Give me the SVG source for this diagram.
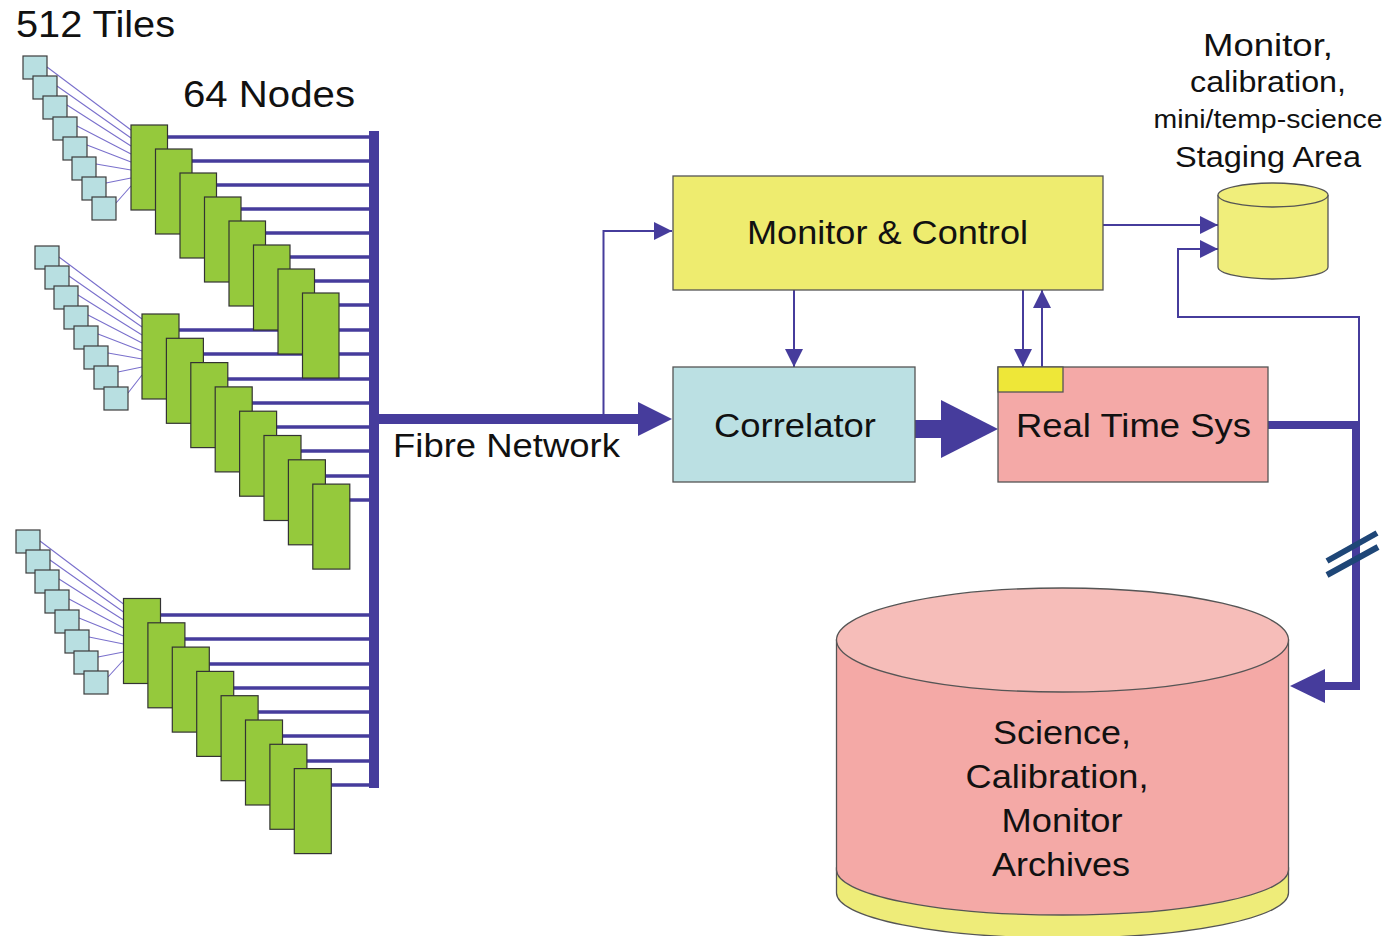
<svg xmlns="http://www.w3.org/2000/svg" width="1387" height="936" viewBox="0 0 1387 936">
<style>
.t{font-family:"Liberation Sans",Arial,Helvetica,sans-serif;fill:#111;}
.tile{fill:#B8DFE1;stroke:#3c3c3c;stroke-width:1.2;}
.node{fill:#95C93C;stroke:#333;stroke-width:1.2;}
.fan{stroke:#7A70CC;stroke-width:1.1;fill:none;}
.hl{stroke:#463C9C;stroke-width:3.5;}
.thin{stroke:#463C9C;stroke-width:2;fill:none;}
.thick{stroke:#463C9C;fill:none;}
.box{stroke:#555;stroke-width:1.3;}
</style>
<defs>
<marker id="ah" markerUnits="userSpaceOnUse" markerWidth="18" markerHeight="18" viewBox="0 0 18 18" refX="18" refY="9" orient="auto">
<path d="M0,0 L18,9 L0,18 z" fill="#463C9C"/>
</marker>
</defs>
<rect width="1387" height="936" fill="#fff"/>

<g id="connectors">
<g id="fan-lines" class="fan">
<path d="M47,67L131,130M57,86L131,138M67,105L131,146M77,126L131,154M87,145L131,162M96,164L131,170M106,183L131,178M116,203L131,186"/>
<path d="M59,257L142,319M69,276L142,327M78,295L142,335M88,315L142,343M98,334L142,351M108,353L142,359M118,372L142,367M128,393L142,375"/>
<path d="M40,541L123.5,604M50,560L123.5,612M59,579L123.5,620M69,599L123.5,628M79,618L123.5,636M89,637L123.5,644M98,657L123.5,652M108,677L123.5,660"/>
</g>
<g id="node-links" class="hl">
<path d="M150,137H372M175,161H372M199,185H372M224,209H372M248,233H372M273,257H372M297,281H372M321,305H372"/>
<path d="M160,330H372M185,354H372M209,379H372M233,403H372M258,427H372M282,451H372M306,476H372M331,500H372"/>
<path d="M141,615H372M166,639H372M190,664H372M215,688H372M239,712H372M263,736H372M288,761H372M312,785H372"/>
</g>
<rect id="fibre-bus" x="369" y="131" width="10" height="657" fill="#463C9C"/>
<path id="fibre-to-correlator" d="M379,419H640" class="thick" stroke-width="10"/>
<polygon points="638,402 672,419 638,436" fill="#463C9C"/>
<path id="fibre-to-mc" d="M603.5,419V231H672" class="thin" marker-end="url(#ah)"/>
<path id="mc-to-correlator" d="M794,290V367" class="thin" marker-end="url(#ah)"/>
<path id="mc-to-rts" d="M1023,290V367" class="thin" marker-end="url(#ah)"/>
<path id="rts-to-mc" d="M1042,367V290" class="thin" marker-end="url(#ah)"/>
<rect id="correlator-to-rts" x="915" y="420" width="28" height="18" fill="#463C9C"/>
<polygon points="941,400 998,429 941,458" fill="#463C9C"/>
<path id="mc-to-staging" d="M1103,225H1218" class="thin" marker-end="url(#ah)"/>
<path id="rts-to-staging" d="M1359,425V317H1178V249H1218" class="thin" marker-end="url(#ah)"/>
<path id="rts-to-archive" d="M1268,425H1356V686H1324" class="thick" stroke-width="8"/>
<polygon points="1325,669 1290,686 1325,703" fill="#463C9C"/>
<g id="break-mark" stroke="#1E4677" stroke-width="6">
<path d="M1327,561L1377,533M1327,575L1378,547"/>
</g>
</g>

<g id="tiles-1">
<rect class="tile" x="23" y="56" width="24" height="23"/>
<rect class="tile" x="33" y="76" width="24" height="23"/>
<rect class="tile" x="43" y="96" width="24" height="23"/>
<rect class="tile" x="53" y="117" width="24" height="23"/>
<rect class="tile" x="63" y="137" width="24" height="23"/>
<rect class="tile" x="72" y="157" width="24" height="23"/>
<rect class="tile" x="82" y="177" width="24" height="23"/>
<rect class="tile" x="92" y="197" width="24" height="23"/>
</g>
<g id="tiles-2">
<rect class="tile" x="35" y="246" width="24" height="23"/>
<rect class="tile" x="45" y="266" width="24" height="23"/>
<rect class="tile" x="54" y="286" width="24" height="23"/>
<rect class="tile" x="64" y="306" width="24" height="23"/>
<rect class="tile" x="74" y="326" width="24" height="23"/>
<rect class="tile" x="84" y="346" width="24" height="23"/>
<rect class="tile" x="94" y="366" width="24" height="23"/>
<rect class="tile" x="104" y="387" width="24" height="23"/>
</g>
<g id="tiles-3">
<rect class="tile" x="16" y="530" width="24" height="23"/>
<rect class="tile" x="26" y="550" width="24" height="23"/>
<rect class="tile" x="35" y="570" width="24" height="23"/>
<rect class="tile" x="45" y="590" width="24" height="23"/>
<rect class="tile" x="55" y="610" width="24" height="23"/>
<rect class="tile" x="65" y="630" width="24" height="23"/>
<rect class="tile" x="74" y="651" width="24" height="23"/>
<rect class="tile" x="84" y="671" width="24" height="23"/>
</g>

<g id="nodes-1">
<rect class="node" x="131" y="125" width="36.5" height="85"/>
<rect class="node" x="155.5" y="149" width="36.5" height="85"/>
<rect class="node" x="180" y="173" width="36.5" height="85"/>
<rect class="node" x="204.5" y="197" width="36.5" height="85"/>
<rect class="node" x="229" y="221" width="36.5" height="85"/>
<rect class="node" x="253.5" y="245" width="36.5" height="85"/>
<rect class="node" x="278" y="269" width="36.5" height="85"/>
<rect class="node" x="302.5" y="293" width="36.5" height="85"/>
</g>
<g id="nodes-2">
<rect class="node" x="142" y="314" width="37" height="85"/>
<rect class="node" x="166.4" y="338.3" width="37" height="85"/>
<rect class="node" x="190.8" y="362.6" width="37" height="85"/>
<rect class="node" x="215.2" y="386.9" width="37" height="85"/>
<rect class="node" x="239.6" y="411.2" width="37" height="85"/>
<rect class="node" x="264" y="435.5" width="37" height="85"/>
<rect class="node" x="288.4" y="459.8" width="37" height="85"/>
<rect class="node" x="312.8" y="484.1" width="37" height="85"/>
</g>
<g id="nodes-3">
<rect class="node" x="123.5" y="598.5" width="37" height="85"/>
<rect class="node" x="147.9" y="622.8" width="37" height="85"/>
<rect class="node" x="172.3" y="647.1" width="37" height="85"/>
<rect class="node" x="196.7" y="671.4" width="37" height="85"/>
<rect class="node" x="221.1" y="695.7" width="37" height="85"/>
<rect class="node" x="245.5" y="720" width="37" height="85"/>
<rect class="node" x="269.9" y="744.3" width="37" height="85"/>
<rect class="node" x="294.3" y="768.6" width="37" height="85"/>
</g>

<g id="labels">
<text class="t" x="16" y="37" font-size="37" textLength="159" lengthAdjust="spacingAndGlyphs">512 Tiles</text>
<text class="t" x="183" y="107" font-size="37" textLength="172" lengthAdjust="spacingAndGlyphs">64 Nodes</text>
<text class="t" x="393" y="457" font-size="32.5" textLength="227" lengthAdjust="spacingAndGlyphs">Fibre Network</text>
</g>

<g id="monitor-control">
<rect class="box" x="673" y="176" width="430" height="114" fill="#EEEC6F"/>
<text class="t" x="747" y="244" font-size="32.5" textLength="281" lengthAdjust="spacingAndGlyphs">Monitor &amp; Control</text>
</g>

<g id="correlator">
<rect class="box" x="673" y="367" width="242" height="115" fill="#BBE0E3"/>
<text class="t" x="714" y="437" font-size="32.5" textLength="162" lengthAdjust="spacingAndGlyphs">Correlator</text>
</g>

<g id="real-time-sys">
<rect class="box" x="998" y="367" width="270" height="115" fill="#F4A9A7"/>
<rect class="box" x="998" y="367" width="65" height="25" fill="#EEE738"/>
<text class="t" x="1016" y="437" font-size="32.5" textLength="235" lengthAdjust="spacingAndGlyphs">Real Time Sys</text>
</g>

<g id="staging-area">
<path class="box" d="M1218,195V267A55,12 0 0 0 1328,267V195" fill="#F0EE7B"/>
<ellipse class="box" cx="1273" cy="195" rx="55" ry="12" fill="#F0EE7B"/>
<text class="t" x="1268" y="56" font-size="31" text-anchor="middle" textLength="130" lengthAdjust="spacingAndGlyphs">Monitor,</text>
<text class="t" x="1268" y="92" font-size="29" text-anchor="middle" textLength="156" lengthAdjust="spacingAndGlyphs">calibration,</text>
<text class="t" x="1268" y="128" font-size="25" text-anchor="middle" textLength="229" lengthAdjust="spacingAndGlyphs">mini/temp-science</text>
<text class="t" x="1268" y="167" font-size="29" text-anchor="middle" textLength="186" lengthAdjust="spacingAndGlyphs">Staging Area</text>
</g>

<g id="archives">
<path class="box" d="M836.5,868V893A226,45 0 0 0 1288.5,893V868Z" fill="#EEEC79"/>
<path class="box" d="M836.5,640V870A226,45 0 0 0 1288.5,870V640Z" fill="#F4A9A6"/>
<ellipse class="box" cx="1062.5" cy="640" rx="226" ry="52" fill="#F6BDB9"/>
<text class="t" x="1062" y="744" font-size="33" text-anchor="middle" textLength="138" lengthAdjust="spacingAndGlyphs">Science,</text>
<text class="t" x="1057" y="788" font-size="33" text-anchor="middle" textLength="183" lengthAdjust="spacingAndGlyphs">Calibration,</text>
<text class="t" x="1062" y="832" font-size="33" text-anchor="middle" textLength="121" lengthAdjust="spacingAndGlyphs">Monitor</text>
<text class="t" x="1061" y="876" font-size="33" text-anchor="middle" textLength="138" lengthAdjust="spacingAndGlyphs">Archives</text>
</g>
</svg>
